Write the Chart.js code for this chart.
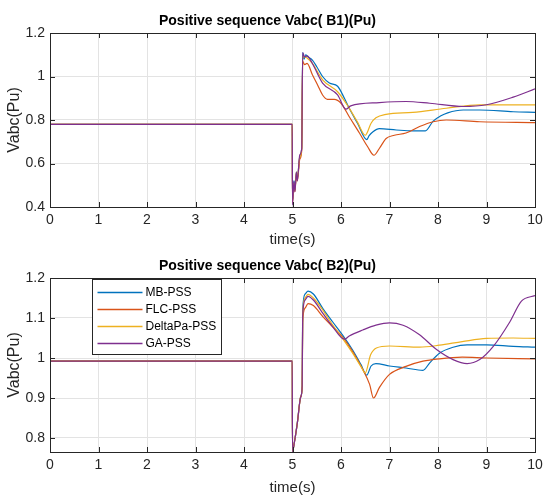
<!DOCTYPE html>
<html>
<head>
<meta charset="utf-8">
<script src="https://cdn.jsdelivr.net/npm/chart.js@4.4.1/dist/chart.umd.min.js"></script>
<style>
  body { margin: 0; background: #fff; }
  canvas { display: block; }
</style>
</head>
<body>
<canvas id="chartB1" width="543" height="248"></canvas>
<canvas id="chartB2" width="543" height="248"></canvas>
<script>
//DATA
////////////////////////////////////////////////////////////////////
var seriesNames = ["MB-PSS", "FLC-PSS", "DeltaPa-PSS", "GA-PSS"];
var seriesColors = ["#0072BD", "#D95319", "#EDB120", "#7E2F8E"];
var xTicks = [0, 1, 2, 3, 4, 5, 6, 7, 8, 9, 10];
var yTicksB1 = [0.4, 0.6, 0.8, 1, 1.2];
var yTicksB2 = [0.8, 0.9, 1, 1.1, 1.2];

// bus B1, [time, Vabc]
var b1Mb = [[0,0.78],[4.995,0.78],[5,0.43],[5.03,0.52],[5.05,0.48],[5.08,0.56],[5.1,0.53],[5.15,0.63],[5.19,0.67],[5.21,1.11],[5.24,1.08],[5.27,1.10],[5.32,1.09],[5.41,1.075],[5.5,1.045],[5.62,1.0],[5.76,0.97],[5.93,0.955],[6.07,0.9],[6.17,0.854],[6.34,0.785],[6.53,0.71],[6.58,0.728],[6.66,0.746],[6.79,0.76],[7.14,0.754],[7.48,0.75],[7.74,0.75],[7.9,0.795],[8.05,0.818],[8.2,0.833],[8.52,0.846],[8.86,0.846],[9.55,0.838],[10,0.835]];
var b1Flc = [[0,0.78],[4.995,0.78],[5,0.42],[5.03,0.5],[5.05,0.47],[5.08,0.55],[5.1,0.52],[5.15,0.62],[5.19,0.66],[5.21,1.07],[5.25,1.055],[5.3,1.06],[5.41,1.008],[5.52,0.96],[5.62,0.915],[5.72,0.895],[5.86,0.895],[6.0,0.877],[6.17,0.815],[6.38,0.74],[6.55,0.677],[6.68,0.638],[6.79,0.669],[6.93,0.715],[7.1,0.73],[7.34,0.74],[7.62,0.77],[7.9,0.792],[8.17,0.8],[8.86,0.792],[10,0.788]];
var b1Delta = [[0,0.78],[4.995,0.78],[5,0.43],[5.03,0.51],[5.05,0.48],[5.08,0.56],[5.1,0.53],[5.15,0.63],[5.19,0.67],[5.21,1.09],[5.26,1.09],[5.3,1.085],[5.41,1.06],[5.62,0.985],[5.93,0.93],[6.14,0.865],[6.34,0.79],[6.5,0.73],[6.62,0.785],[6.72,0.81],[6.93,0.826],[7.48,0.835],[8.17,0.854],[8.86,0.87],[10,0.87]];
var b1Ga = [[0,0.78],[4.995,0.78],[5,0.41],[5.03,0.52],[5.05,0.47],[5.08,0.56],[5.1,0.52],[5.15,0.64],[5.19,0.67],[5.21,1.11],[5.25,1.09],[5.3,1.095],[5.41,1.06],[5.62,0.97],[5.93,0.915],[6.1,0.85],[6.2,0.865],[6.79,0.88],[7.34,0.885],[7.83,0.877],[8.52,0.862],[9.0,0.87],[9.55,0.905],[10,0.943]];

// bus B2, [time, Vabc]
var b2Mb = [[0,0.992],[4.995,0.992],[5,0.767],[5.04,0.79],[5.1,0.838],[5.17,0.903],[5.2,0.93],[5.21,1.12],[5.26,1.16],[5.32,1.167],[5.43,1.16],[5.63,1.123],[5.83,1.09],[6.03,1.058],[6.24,1.02],[6.41,0.984],[6.53,0.957],[6.62,0.98],[6.72,0.986],[7.0,0.98],[7.34,0.975],[7.69,0.969],[7.83,0.988],[8.03,1.012],[8.31,1.027],[8.6,1.033],[9.0,1.033],[9.55,1.029],[10,1.027]];
var b2Flc = [[0,0.992],[4.995,0.992],[5,0.767],[5.04,0.79],[5.1,0.838],[5.17,0.903],[5.2,0.93],[5.21,1.09],[5.26,1.125],[5.32,1.136],[5.43,1.131],[5.63,1.103],[5.83,1.078],[6.03,1.053],[6.24,1.016],[6.45,0.971],[6.59,0.934],[6.67,0.9],[6.79,0.926],[7.0,0.959],[7.34,0.979],[7.69,0.992],[8.03,0.998],[8.5,1.002],[9.0,1.0],[10,0.998]];
var b2Delta = [[0,0.992],[4.995,0.992],[5,0.767],[5.04,0.79],[5.1,0.838],[5.17,0.903],[5.2,0.93],[5.21,1.11],[5.26,1.15],[5.32,1.159],[5.43,1.15],[5.63,1.119],[5.83,1.082],[6.03,1.049],[6.24,1.012],[6.41,0.979],[6.5,0.963],[6.61,1.008],[6.73,1.025],[7.0,1.03],[7.62,1.027],[8.03,1.032],[8.5,1.041],[9.0,1.049],[9.55,1.05],[10,1.049]];
var b2Ga = [[0,0.992],[4.995,0.992],[5,0.765],[5.04,0.79],[5.1,0.838],[5.17,0.903],[5.2,0.93],[5.21,1.105],[5.26,1.145],[5.32,1.154],[5.43,1.145],[5.63,1.111],[5.83,1.078],[6.07,1.047],[6.17,1.055],[6.45,1.07],[6.72,1.082],[7.0,1.088],[7.28,1.082],[7.62,1.058],[7.97,1.021],[8.31,0.996],[8.6,0.986],[8.86,0.996],[9.14,1.029],[9.48,1.09],[9.72,1.142],[10,1.156]];

//HELPERS
////////////////////////////////////////////////////////////////////
var axisColor = "#262626";
var fontFamily = "'Liberation Sans', Arial, sans-serif";

function toPoints(pairs) {
    return pairs.map(function (p) { return { x: p[0], y: p[1] }; });
}

function makeDatasets(list) {
    return list.map(function (pairs, i) {
        return {
            label: seriesNames[i],
            data: toPoints(pairs),
            borderColor: seriesColors[i],
            borderWidth: 1.2,
            pointRadius: 0,
            fill: false,
            cubicInterpolationMode: "monotone",
            // purple drawn on top like matlab
            order: 3 - i
        };
    });
}

// matlab style box with inward ticks
var boxPlugin = {
    id: "matlabBox",
    afterDatasetsDraw: function (chart) {
        var ctx = chart.ctx;
        var a = chart.chartArea;
        var xs = chart.scales.x, ys = chart.scales.y;
        ctx.save();
        ctx.strokeStyle = axisColor;
        ctx.lineWidth = 1;
        ctx.strokeRect(Math.round(a.left) + 0.5, Math.round(a.top) + 0.5, Math.round(a.right - a.left), Math.round(a.bottom - a.top));
        ctx.beginPath();
        xs.ticks.forEach(function (t) {
            var px = Math.round(xs.getPixelForValue(t.value)) + 0.5;
            ctx.moveTo(px, a.bottom); ctx.lineTo(px, a.bottom - 5);
            ctx.moveTo(px, a.top); ctx.lineTo(px, a.top + 5);
        });
        ys.ticks.forEach(function (t) {
            var py = Math.round(ys.getPixelForValue(t.value)) + 0.5;
            ctx.moveTo(a.left, py); ctx.lineTo(a.left + 5, py);
            ctx.moveTo(a.right, py); ctx.lineTo(a.right - 5, py);
        });
        ctx.stroke();
        ctx.restore();
    }
};

// legend box inside the plot area (only on B2 chart)
var insideLegend = {
    id: "insideLegend",
    afterDatasetsDraw: function (chart, args, opts) {
        if (!opts.show) return;
        var ctx = chart.ctx;
        var a = chart.chartArea;
        var left = Math.round(a.left + 42) + 0.5;
        var top = Math.round(a.top + 1) + 0.5;
        var w = 129, h = 75;
        ctx.save();
        ctx.fillStyle = "#fff";
        ctx.fillRect(left, top, w, h);
        ctx.strokeStyle = axisColor;
        ctx.lineWidth = 1;
        ctx.strokeRect(left, top, w, h);
        ctx.font = "12px " + fontFamily;
        ctx.textBaseline = "middle";
        chart.data.datasets.forEach(function (ds, i) {
            var y = top + 13 + i * 17;
            ctx.strokeStyle = ds.borderColor;
            ctx.lineWidth = 1.5;
            ctx.beginPath();
            ctx.moveTo(left + 5, y);
            ctx.lineTo(left + 50, y);
            ctx.stroke();
            ctx.fillStyle = "#000";
            ctx.fillText(ds.label, left + 53, y);
        });
        ctx.restore();
    }
};

function makeChart(id, title, data, yMin, yMax, yTicks, opts) {
    new Chart(document.getElementById(id), {
        type: "line",
        data: { datasets: makeDatasets(data) },
        plugins: [boxPlugin, insideLegend],
        options: {
            responsive: false,
            animation: false,
            layout: { padding: { left: 0, right: 8, top: 0, bottom: 0 } },
            plugins: {
                legend: { display: false },
                tooltip: { enabled: false },
                insideLegend: { show: opts.legend },
                title: {
                    display: true,
                    text: title,
                    color: "#000",
                    font: { family: fontFamily, size: 14, weight: "bold", lineHeight: 1.2 },
                    padding: { top: opts.titleTop, bottom: opts.titleBottom }
                }
            },
            scales: {
                x: {
                    type: "linear",
                    min: 0,
                    max: 10,
                    afterBuildTicks: function (scale) {
                        scale.ticks = xTicks.map(function (v) { return { value: v }; });
                    },
                    afterFit: function (scale) {
                        scale.height = opts.xHeight;
                        scale.paddingLeft = 0;
                        scale.paddingRight = 0;
                    },
                    grid: { color: "#e3e3e3", drawTicks: false },
                    border: { display: false },
                    ticks: {
                        color: axisColor,
                        padding: 5,
                        maxRotation: 0,
                        font: { family: fontFamily, size: 14 }
                    },
                    title: {
                        display: true,
                        text: "time(s)",
                        color: axisColor,
                        font: { family: fontFamily, size: 15, lineHeight: 1 },
                        padding: { top: 0, bottom: 0.5 }
                    }
                },
                y: {
                    min: yMin,
                    max: yMax,
                    afterBuildTicks: function (scale) {
                        scale.ticks = yTicks.map(function (v) { return { value: v }; });
                    },
                    afterFit: function (scale) { scale.width = 50; },
                    grid: { color: "#e3e3e3", drawTicks: false },
                    border: { display: false },
                    ticks: {
                        color: axisColor,
                        padding: 5,
                        font: { family: fontFamily, size: 14 },
                        callback: function (v) { return String(Math.round(v * 10) / 10); }
                    },
                    title: {
                        display: true,
                        text: "Vabc(Pu)",
                        color: axisColor,
                        font: { family: fontFamily, size: 16, lineHeight: 1 },
                        padding: { top: 7, bottom: 0 }
                    }
                }
            }
        }
    });
}

//DRAW
////////////////////////////////////////////////////////////////////
makeChart("chartB1", "Positive sequence Vabc( B1)(Pu)", [b1Mb, b1Flc, b1Delta, b1Ga], 0.4, 1.2, yTicksB1,
    { legend: false, titleTop: 12.6, titleBottom: 3.6, xHeight: 41 });
makeChart("chartB2", "Positive sequence Vabc( B2)(Pu)", [b2Mb, b2Flc, b2Delta, b2Ga], 0.765, 1.2, yTicksB2,
    { legend: true, titleTop: 9.6, titleBottom: 3.6, xHeight: 44 });
</script>
</body>
</html>
